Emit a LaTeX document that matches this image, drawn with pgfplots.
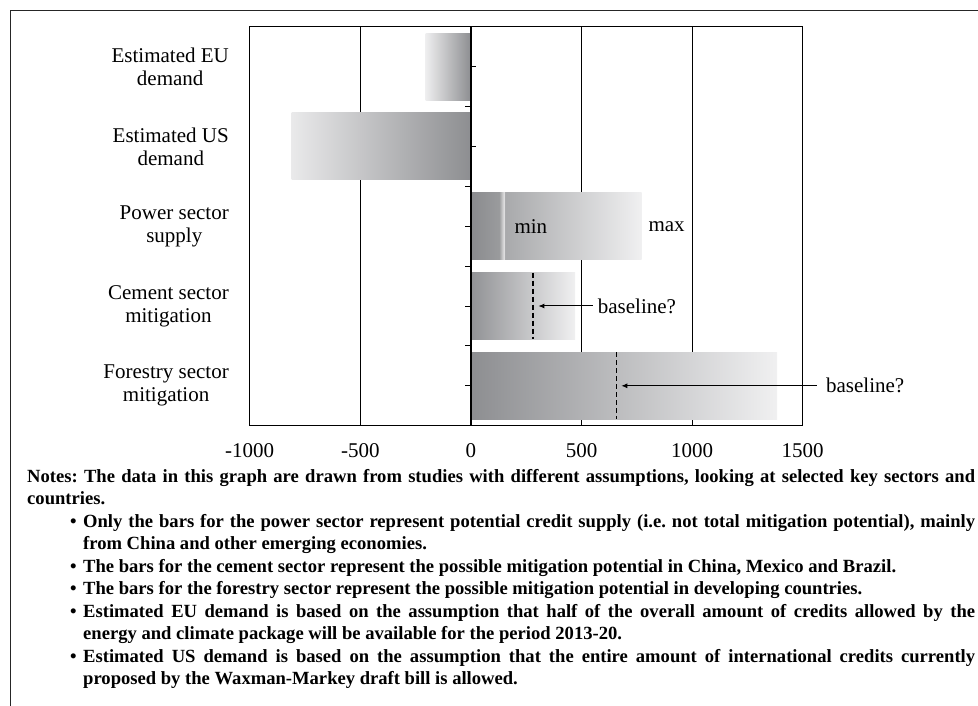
\documentclass[border=0pt]{standalone}
\usepackage{fontspec}
\setmainfont{Liberation Serif}
\usepackage{pgfplots}
\pgfplotsset{compat=1.18}
\usetikzlibrary{arrows.meta}
\newcommand\lbl{\fontsize{21}{23}\selectfont}
\definecolor{p0}{HTML}{8A8B8E}
\definecolor{p1}{HTML}{9A9B9D}
\definecolor{p2}{HTML}{CFCFD0}
\definecolor{p3}{HTML}{E4E4E5}
\definecolor{p4}{HTML}{A8A9AB}
\definecolor{p5}{HTML}{F0F0F1}
\definecolor{barlight}{HTML}{EEEEEF}
\definecolor{bardark}{HTML}{8D8E91}
\definecolor{cemdark}{HTML}{919295}
\pgfdeclarehorizontalshading{powershade}{100bp}{color(0bp)=(p0); color(25bp)=(p0); color(33.30bp)=(p1); color(34.30bp)=(p2); color(34.85bp)=(p3); color(34.98bp)=(p4); color(75bp)=(p5); color(100bp)=(p5)}
\begin{document}
\begin{tikzpicture}[x=1pt,y=1pt]
\path[use as bounding box] (0,0) rectangle (978,706);
\draw[line width=1pt, black!85] (10,0) -- (10,695) -- (978,695);
\begin{axis}[
  at={(249.7pt,280.3pt)}, anchor=south west,
  scale only axis, width=553pt, height=399pt,
  xmin=-1000, xmax=1500, ymin=0.5, ymax=5.5, y dir=reverse,
  xtick={-1000,-500,0,500,1000,1500},
  xticklabels={-1000,-500,0,500,1000,1500},
  ytick={1,2,3,4,5},
  yticklabels={{Estimated EU\\demand},{Estimated US\\demand},{Power sector\\supply},{Cement sector\\mitigation},{Forestry sector\\mitigation}},
  major tick length=0pt,
  xmajorgrids, grid style={black, line width=0.9pt},
  axis line style={black, line width=1.2pt},
  xticklabel style={font=\lbl, anchor=base, yshift=-32pt},
  yticklabel style={font=\lbl, align=center, inner sep=0pt, anchor=east, xshift=-20.7pt},
  clip=false,
]
% EU demand
\addplot[xbar, bar shift=0pt, bar width=67pt, draw=none, left color=barlight, right color=bardark] coordinates {(-205,1)};
% US demand
\addplot[xbar, bar shift=0pt, bar width=67pt, draw=none, left color=barlight!98!black, right color=bardark] coordinates {(-810,2)};
% Power sector supply (min ~140, max ~772)
\addplot[xbar, bar shift=0pt, bar width=67pt, draw=none, shading=powershade] coordinates {(772,3)};
% Cement sector mitigation
\addplot[xbar, bar shift=0pt, bar width=67pt, draw=none, left color=cemdark, right color=p5] coordinates {(471,4)};
% Forestry sector mitigation
\addplot[xbar, bar shift=0pt, bar width=67pt, draw=none, left color=bardark, right color=p5] coordinates {(1384,5)};
% baselines
\addplot[black, line width=1.2pt, dash pattern=on 5pt off 3pt] coordinates {(281,3.581) (281,4.419)};
\addplot[black, line width=1.2pt, dash pattern=on 5pt off 3pt] coordinates {(660,4.581) (660,5.419)};
\draw[black, line width=1.2pt] (axis cs:0,0.5) -- (axis cs:0,5.5);
% category ticks on the zero line
\pgfplotsinvokeforeach{1,2}{\draw[black, line width=0.9pt] (axis cs:0,#1) -- ([xshift=5.5pt]axis cs:0,#1);}
\pgfplotsinvokeforeach{1.5,2.5,3,3.5,4,4.5,5}{\draw[black, line width=0.9pt] ([xshift=-5.5pt]axis cs:0,#1) -- (axis cs:0,#1);}
\draw[-{Latex[length=6pt,width=5pt]}, line width=1pt] (axis cs:550,4) -- (axis cs:305,4);
\draw[-{Latex[length=6pt,width=5pt]}, line width=1pt] (axis cs:1564,5) -- (axis cs:680,5);
\node[font=\lbl, anchor=west, inner sep=0pt] at (axis cs:573,4) {baseline?};
\node[font=\lbl, anchor=west, inner sep=0pt] at (axis cs:1605,5) {baseline?};
\node[font=\lbl, inner sep=0pt] at (axis cs:271,3) {min};
\node[font=\lbl, inner sep=0pt] at (axis cs:885,3) {max};
\end{axis}
\node[anchor=north west, inner sep=0pt] at (27,237) {\parbox[t]{948pt}{\bfseries\fontsize{18.6}{22.5}\selectfont\frenchspacing\parindent=0pt
Notes: The data in this graph are drawn from studies with different assumptions, looking at selected key sectors and\linebreak countries.\par
\hangindent=56pt\hangafter=1\hspace*{43pt}\makebox[13pt][l]{•}Only the bars for the power sector represent potential credit supply (i.e. not total mitigation potential), mainly\linebreak from China and other emerging economies.\par
\hangindent=56pt\hangafter=1\hspace*{43pt}\makebox[13pt][l]{•}The bars for the cement sector represent the possible mitigation potential in China, Mexico and Brazil.\par
\hangindent=56pt\hangafter=1\hspace*{43pt}\makebox[13pt][l]{•}The bars for the forestry sector represent the possible mitigation potential in developing countries.\par
\hangindent=56pt\hangafter=1\hspace*{43pt}\makebox[13pt][l]{•}Estimated EU demand is based on the assumption that half of the overall amount of credits allowed by the\linebreak energy and climate package will be available for the period 2013-20.\par
\hangindent=56pt\hangafter=1\hspace*{43pt}\makebox[13pt][l]{•}Estimated US demand is based on the assumption that the entire amount of international credits currently\linebreak proposed by the Waxman-Markey draft bill is allowed.\par}};
\end{tikzpicture}
\end{document}
